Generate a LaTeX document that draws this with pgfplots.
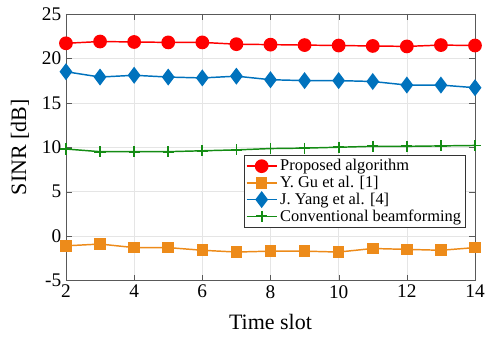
\documentclass[border=0pt]{standalone}
\usepackage{fontspec}
\setmainfont{Liberation Serif}
\usepackage{pgfplots}
\pgfplotsset{compat=1.18}
\definecolor{cRed}{RGB}{255,0,0}
\definecolor{cOrange}{RGB}{237,139,26}
\definecolor{cBlue}{RGB}{0,114,189}
\definecolor{cGreen}{RGB}{20,140,20}
\begin{document}
\begin{tikzpicture}
\begin{axis}[
  scale only axis, width=307pt, height=200pt,
  xmin=2, xmax=14, ymin=-5, ymax=25,
  xtick={2,4,...,14}, ytick={-5,0,...,25},
  xticklabel={\pgfmathprintnumber[assume math mode=true]{\tick}},
  yticklabel={\pgfmathprintnumber[assume math mode=true]{\tick}},
  tick label style={font=\rmfamily\fontsize{14.5}{16}\selectfont},
  xlabel={Time slot}, ylabel={SINR [dB]},
  label style={font=\rmfamily\fontsize{16.5}{18}\selectfont},
  xlabel style={at={(axis description cs:0.5,-0.1575)}, anchor=center},
  ylabel style={at={(axis description cs:-0.1124,0.5)}, anchor=center},
  grid=major, major grid style={gray!20},
  axis line style={gray!70!black},
  tick style={gray!70!black},
  tick align=inside,
  legend image code/.code={\draw[mark repeat=2,mark phase=2,#1] plot coordinates {(0cm,0cm)(0.4cm,0cm)(0.8cm,0cm)};},
  legend style={at={(0.976,0.47)}, anchor=north east, font=\rmfamily\fontsize{12.3}{13}\selectfont, draw=black!80, inner sep=1pt, row sep=-1.5pt, legend cell align=left},
]
\addplot[cRed, line width=1.1pt, mark=*, mark size=4.6pt] coordinates {(2,21.7)(3,21.9)(4,21.85)(5,21.8)(6,21.8)(7,21.6)(8,21.55)(9,21.5)(10,21.45)(11,21.4)(12,21.35)(13,21.5)(14,21.45)};
\addlegendentry{Proposed algorithm}
\addplot[cOrange, line width=1.1pt, mark=square*, mark size=3.8pt] coordinates {(2,-1.1)(3,-0.9)(4,-1.3)(5,-1.3)(6,-1.6)(7,-1.8)(8,-1.7)(9,-1.7)(10,-1.8)(11,-1.4)(12,-1.5)(13,-1.6)(14,-1.3)};
\addlegendentry{Y. Gu et al. [1]}
\addplot[cBlue, line width=1.1pt, mark=diamond*, mark size=5.5pt] coordinates {(2,18.5)(3,17.9)(4,18.1)(5,17.9)(6,17.8)(7,18.0)(8,17.6)(9,17.5)(10,17.5)(11,17.4)(12,17.0)(13,17.0)(14,16.7)};
\addlegendentry{J. Yang et al. [4]}
\addplot[cGreen, line width=1.1pt, mark=+, mark size=4.2pt, mark options={line width=1.3pt}] coordinates {(2,9.8)(3,9.5)(4,9.5)(5,9.5)(6,9.6)(7,9.7)(8,9.85)(9,9.9)(10,10.0)(11,10.1)(12,10.1)(13,10.15)(14,10.2)};
\addlegendentry{Conventional beamforming}
\end{axis}
\pgfresetboundingbox
\useasboundingbox ([shift={(-49.5pt,-45pt)}]current axis.south west) rectangle ([shift={(12pt,10.5pt)}]current axis.north east);
\end{tikzpicture}
\end{document}
